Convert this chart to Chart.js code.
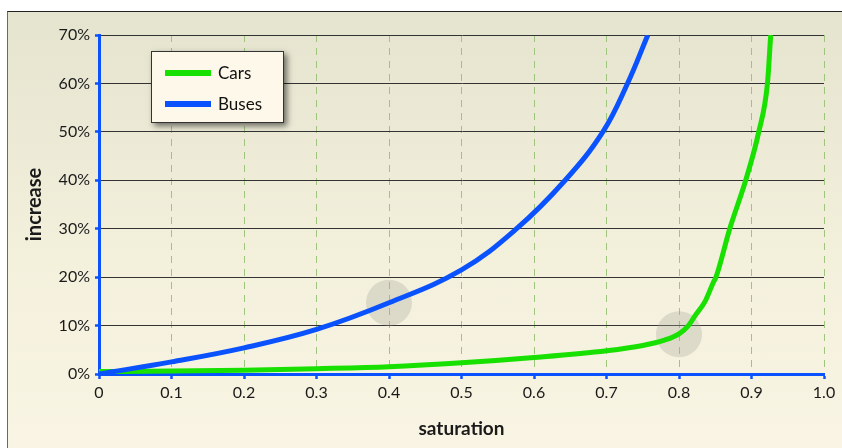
<!DOCTYPE html>
<html>
<head>
<meta charset="utf-8">
<script src="https://cdn.jsdelivr.net/npm/chart.js@4.4.1/dist/chart.umd.min.js"></script>
<style>
  html, body { margin: 0; padding: 0; background: #fff; }
  #wrap { position: relative; width: 842px; height: 448px; overflow: hidden; }
  #frame {
    position: absolute; left: 7px; top: 11px; width: 900px; height: 500px;
    border-left: 1px solid #6a6a6a; border-top: 1px solid #222;
    background: linear-gradient(to bottom, #e5e4cf 0%, #f3f0dc 50%, #fbf6e6 100%);
  }
  #grafica { position: absolute; left: 0; top: 0; }
  #legend {
    position: absolute; left: 151px; top: 51px; width: 131px; height: 70px;
    border: 1px solid #333; background: #fdf8e9;
    box-shadow: 3px 3px 6px rgba(0,0,0,0.55);
    font-family: Lato, "Open Sans", sans-serif; font-size: 17px; color: #111;
  }
  .item { position: absolute; left: 13px; height: 20px; }
  .item span.sw { position: absolute; left: 0; top: 8px; width: 46px; height: 6px; }
  .item span.tx { position: absolute; left: 53px; top: 0; white-space: nowrap; }
</style>
</head>
<body>
<div id="wrap">
  <div id="frame"></div>
  <canvas id="grafica" width="842" height="448"></canvas>
  <div id="legend"></div>
</div>
<script>
// saturation values and percentage increase
var carsX = [0, 0.1, 0.2, 0.3, 0.4, 0.5, 0.6, 0.7, 0.75, 0.78, 0.8, 0.813, 0.822, 0.836, 0.847, 0.851, 0.87, 0.892, 0.91, 0.922, 0.9265];
var carsY = [0.5, 0.6, 0.8, 1.1, 1.5, 2.3, 3.4, 4.8, 5.9, 7.0, 8.3, 10, 12, 15, 18.8, 20, 30, 40, 50, 60, 70];
var busesX = [0, 0.1, 0.2, 0.3, 0.4, 0.5, 0.576, 0.643, 0.695, 0.729, 0.757];
var busesY = [0, 2.5, 5.4, 9.2, 14.7, 21.5, 30, 40, 50, 60, 70];
var circleX = [0.4, 0.8];
var circleY = [14.7, 8.2];
var xTickLabels = ['0', '0.1', '0.2', '0.3', '0.4', '0.5', '0.6', '0.7', '0.8', '0.9', '1.0'];
var yTickLabels = ['0%', '10%', '20%', '30%', '40%', '50%', '60%', '70%'];

function pts(xs, ys) {
    var out = [];
    for (var i = 0; i < xs.length; i++) out.push({x: xs[i], y: ys[i]});
    return out;
}

var fontFam = 'Lato, "Open Sans", sans-serif';
var blue = '#0b52ff';
var green = '#18e000';

var chart = new Chart(document.getElementById('grafica').getContext('2d'), {
    type: 'scatter',
    data: {
        datasets: [
            {
                label: 'Cars',
                data: pts(carsX, carsY),
                showLine: true,
                borderColor: green,
                borderWidth: 5,
                pointRadius: 0,
                cubicInterpolationMode: 'monotone',
                order: 2
            },
            {
                label: 'Buses',
                data: pts(busesX, busesY),
                showLine: true,
                borderColor: blue,
                borderWidth: 5,
                pointRadius: 0,
                tension: 0.4,
                order: 1
            },
            {
                label: 'marks',
                data: pts(circleX, circleY),
                showLine: false,
                pointRadius: 23,
                pointBorderWidth: 0,
                backgroundColor: 'rgba(170,170,155,0.33)',
                borderColor: 'rgba(0,0,0,0)',
                order: 3
            }
        ]
    },
    options: {
        animation: false,
        responsive: false,
        maintainAspectRatio: false,
        // the big grey marks would otherwise push the plot in from the right
        layout: { autoPadding: false, padding: { left: 0, top: 35, right: 18, bottom: 0 } },
        plugins: {
            legend: { display: false },
            tooltip: { enabled: false }
        },
        scales: {
            x: {
                type: 'linear',
                min: 0, max: 1,
                afterFit: function(s) { s.height = 74; s.paddingRight = 0; },
                ticks: {
                    stepSize: 0.1,
                    padding: 4,
                    color: '#1a1a1a',
                    font: { family: fontFam, size: 16 },
                    maxRotation: 0,
                    callback: function(v, i) { return xTickLabels[i]; }
                },
                grid: {
                    color: '#9fc47e',
                    lineWidth: 1,
                    drawTicks: true,
                    tickLength: 5,
                    tickColor: blue,
                    tickWidth: 2.5
                },
                border: { color: blue, width: 3, dash: [7, 6] },
                title: {
                    display: true,
                    text: 'saturation',
                    color: '#1a1a1a',
                    font: { family: fontFam, size: 19, weight: 'bold' },
                    padding: { top: 0, bottom: 8 }
                }
            },
            y: {
                min: 0, max: 70,
                afterFit: function(s) { s.width = 99; },
                ticks: {
                    stepSize: 10,
                    padding: 5,
                    color: '#1a1a1a',
                    font: { family: fontFam, size: 16 },
                    callback: function(v, i) { return yTickLabels[i]; }
                },
                grid: {
                    color: '#333333',
                    lineWidth: 1,
                    drawTicks: true,
                    tickLength: 4,
                    tickColor: blue,
                    tickWidth: 2.5
                },
                border: { color: blue, width: 3 },
                title: {
                    display: true,
                    text: 'increase',
                    color: '#1a1a1a',
                    font: { family: fontFam, size: 20, weight: 'bold' },
                    padding: { top: 23, bottom: 0 }
                }
            }
        }
    }
});

// legend box built from the datasets
var legend = document.getElementById('legend');
chart.data.datasets.slice(0, 2).forEach(function(ds, i) {
    var item = document.createElement('div');
    item.className = 'item';
    item.style.top = (10 + i * 31) + 'px';
    item.innerHTML = '<span class="sw" style="background:' + ds.borderColor + '"></span><span class="tx">' + ds.label + '</span>';
    legend.appendChild(item);
});
</script>
</body>
</html>
